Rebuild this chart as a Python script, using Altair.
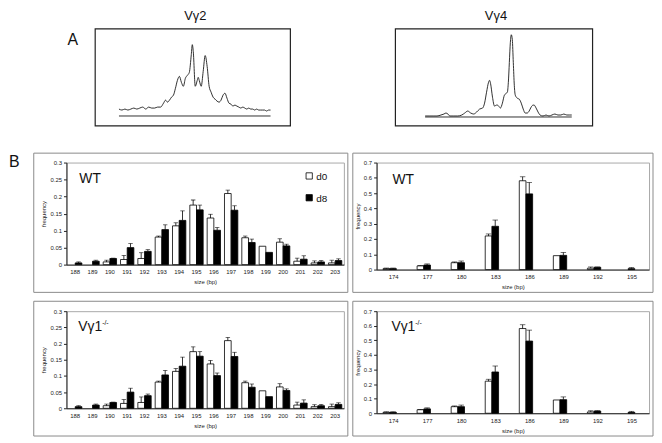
import altair as alt
import pandas as pd

FONT = "Liberation Sans"

# ---------------- Panel A: scan traces (position along scan, height above baseline) -------------
v2_pos = [24, 27, 30, 33, 36, 39, 42, 45, 48, 51, 54, 57, 60, 63, 66, 69, 71, 73, 75, 77, 79, 81, 83,
          85, 87, 89, 91, 93, 95, 97, 98, 99, 101, 103, 104, 105, 107, 109, 111, 113, 115, 117, 119,
          121, 123, 125, 127, 129, 131, 133, 135, 137, 139, 141, 143, 145, 147, 149, 151, 153, 155,
          157, 159, 161, 163, 165, 167, 169, 171, 173, 175, 177]
v2_h = [7, 6, 7, 6, 7, 8, 7, 8, 9, 7, 9, 8, 8, 9, 9, 13, 16, 14, 16, 19, 21, 28, 36,
        40, 34, 30, 38, 41, 44, 62, 72, 65, 30, 36, 39, 36, 30, 45, 61, 50, 30, 24, 19,
        17, 15, 14, 16, 21, 23, 18, 13, 12, 10, 11, 10, 9, 8, 9, 8, 7, 8,
        7, 7, 6, 7, 6, 6, 6, 6, 5, 6, 6]

v4_pos = [30, 34, 38, 42, 46, 49, 51, 53, 55, 59, 63, 67, 70, 73, 76, 79, 82, 85, 88, 90, 92, 94, 95,
          96, 98, 100, 102, 103, 105, 106, 108, 110, 112, 113, 114, 115, 116, 117, 118, 119, 120,
          121, 123, 125, 127, 129, 131, 133, 135, 137, 139, 140, 142, 144, 146, 149, 152, 155, 158,
          161, 164, 167, 170, 173, 176, 178]
v4_h = [1, 1, 1, 1, 2, 3, 4, 3, 1, 1, 1, 2, 4, 6, 4, 3, 5, 8, 9, 14, 25, 35, 37,
        34, 20, 11, 12, 12, 10, 9, 14, 22, 24, 25, 35, 55, 75, 83, 78, 55, 32,
        22, 19, 18, 14, 8, 4, 4, 6, 10, 12, 12, 9, 5, 2, 1, 2, 1, 2,
        3, 2, 2, 3, 2, 2, 2]

# ---------------- Panel B: frequency of CDR3 sizes --------------------------------------------
g2_sizes = [188, 189, 190, 191, 192, 193, 194, 195, 196, 197, 198, 199, 200, 201, 202, 203]
g2_d0 = [0.000, 0.000, 0.008, 0.015, 0.018, 0.081, 0.114, 0.175, 0.137, 0.209, 0.079, 0.054, 0.066, 0.010, 0.005, 0.005]
g2_d0_err = [0.0, 0.0, 0.005, 0.012, 0.017, 0.003, 0.009, 0.015, 0.011, 0.010, 0.005, 0.0, 0.010, 0.009, 0.006, 0.008]
g2_d8 = [0.005, 0.010, 0.018, 0.050, 0.039, 0.103, 0.130, 0.161, 0.101, 0.160, 0.065, 0.036, 0.055, 0.016, 0.008, 0.012]
g2_d8_err = [0.003, 0.003, 0.001, 0.012, 0.005, 0.014, 0.028, 0.014, 0.008, 0.013, 0.010, 0.0, 0.005, 0.010, 0.004, 0.005]

g4_sizes = [174, 177, 180, 183, 186, 189, 192, 195]
g4_d0 = [0.006, 0.024, 0.045, 0.220, 0.581, 0.091, 0.009, 0.000]
g4_d0_err = [0.004, 0.002, 0.005, 0.013, 0.026, 0.0, 0.008, 0.0]
g4_d8 = [0.006, 0.030, 0.045, 0.283, 0.495, 0.093, 0.015, 0.006]
g4_d8_err = [0.004, 0.007, 0.011, 0.041, 0.075, 0.019, 0.002, 0.007]

groups = ["d0", "d8"]

ONE = alt.Data(values=[{}])


def frame(x1, x2, y1, y2, color="#8a8a8a", width=1.0):
    return alt.Chart(ONE).mark_rect(fill="transparent", stroke=color, strokeWidth=width).encode(
        x=alt.value(x1), x2=alt.value(x2), y=alt.value(y1), y2=alt.value(y2))


def label(text, x, y, size, align="left", weight="normal"):
    return alt.Chart(ONE).mark_text(text=text, fontSize=size, align=align, baseline="alphabetic",
                                    font=FONT, color="#111", fontWeight=weight).encode(
        x=alt.value(x), y=alt.value(y))


def anchor():
    # invisible marker that fixes the left edge of every row
    return alt.Chart(ONE).mark_rect(opacity=0).encode(
        x=alt.value(-58), x2=alt.value(-57), y=alt.value(0), y2=alt.value(1))


def trace_panel(pos, h, w, hgt, xdom, ydom, box, title, title_x, extra=None):
    df = pd.DataFrame({"pos": pos, "h": h})
    xs = alt.Scale(domain=xdom, nice=False, zero=False)
    ys = alt.Scale(domain=ydom, nice=False, zero=False)
    line = alt.Chart(df).mark_line(color="#1a1a1a", strokeWidth=0.9, interpolate="monotone").encode(
        x=alt.X("pos:Q", scale=xs, axis=None), y=alt.Y("h:Q", scale=ys, axis=None))
    base_df = pd.DataFrame({"a": [min(pos)], "b": [max(pos)], "z": [0]})
    baseline = alt.Chart(base_df).mark_rule(color="#1a1a1a", strokeWidth=0.9).encode(
        x=alt.X("a:Q", scale=xs, axis=None), x2="b:Q", y=alt.Y("z:Q", scale=ys, axis=None))
    layers = [frame(box[0], box[1], 0, hgt, color="#222", width=1.2), baseline, line,
              label(title, title_x, -8.5, 13, align="center")]
    if extra:
        layers += extra
    return alt.layer(*layers).properties(width=w, height=hgt,
                                         view=alt.ViewBackground(stroke="transparent"))


def bar_panel(sizes, d0, d0e, d8, d8e, ymax, yvals, w, hgt, pin, pout, cap, extra):
    rows = []
    for s, a, ae, b, be in zip(sizes, d0, d0e, d8, d8e):
        rows.append({"size": s, "grp": "d0", "val": a, "err": ae, "up": a + ae})
        rows.append({"size": s, "grp": "d8", "val": b, "err": be, "up": b + be})
    df = pd.DataFrame(rows)
    xaxis = alt.Axis(title="size (bp)", labelAngle=0, ticks=False, domainColor="#222", labelFontSize=6,
                     titleFontSize=6, labelPadding=4, titlePadding=4, titleFontWeight="normal",
                     labelColor="#222", titleColor="#222", labelFont=FONT, titleFont=FONT)
    yaxis = alt.Axis(title="frequency", values=yvals, format="~g", grid=False, tickSize=3,
                     tickColor="#222", domainColor="#222", labelFontSize=6, titleFontSize=6,
                     labelPadding=2, titlePadding=3, titleFontWeight="normal", labelColor="#222",
                     titleColor="#222", labelFont=FONT, titleFont=FONT)
    xs = alt.Scale(paddingInner=pin, paddingOuter=pout)
    ys = alt.Scale(domain=[0, ymax], nice=False)
    X = alt.X("size:O", scale=xs, axis=xaxis)
    XO = alt.XOffset("grp:N", scale=alt.Scale(domain=groups))
    bars = alt.Chart(df).transform_filter("datum.val > 0").mark_bar(stroke="black", strokeWidth=0.8).encode(
        x=X, xOffset=XO, y=alt.Y("val:Q", scale=ys, axis=yaxis),
        fill=alt.Fill("grp:N", scale=alt.Scale(domain=groups, range=["white", "black"]), legend=None))
    errs = alt.Chart(df).transform_filter("datum.err > 0").mark_rule(color="black", strokeWidth=0.8).encode(
        x=X, xOffset=XO, y=alt.Y("val:Q", scale=ys, axis=yaxis), y2="up:Q")
    caps = alt.Chart(df).transform_filter("datum.err > 0").mark_tick(
        color="black", thickness=0.8, size=cap, orient="horizontal").encode(
        x=X, xOffset=XO, y=alt.Y("up:Q", scale=ys, axis=yaxis))
    return alt.layer(bars, errs, caps, *extra).properties(width=w, height=hgt)


def legend_items():
    return [
        alt.Chart(ONE).mark_square(size=40, fill="white", stroke="black", strokeWidth=0.8, opacity=1).encode(
            x=alt.value(245), y=alt.value(13.5)),
        alt.Chart(ONE).mark_square(size=40, fill="black", stroke="black", strokeWidth=0.8, opacity=1).encode(
            x=alt.value(245), y=alt.value(35.5)),
        label("d0", 252, 17.5, 10),
        label("d8", 252, 39.5, 10),
    ]


yv_g2 = [0, 0.05, 0.1, 0.15, 0.2, 0.25, 0.3]
yv_g4 = [0, 0.1, 0.2, 0.3, 0.4, 0.5, 0.6, 0.7]

topL = trace_panel(v2_pos, v2_h, 280, 98, [-29, 251], [-10, 88], (29, 226), "Vγ2", 130,
                   extra=[label("A", 1, 16, 16), anchor()])
topR = trace_panel(v4_pos, v4_h, 275, 98, [-19, 256], [-9, 89], (19, 218), "Vγ4", 120.5)

wtL = bar_panel(g2_sizes, g2_d0, g2_d0_err, g2_d8, g2_d8_err, 0.3, yv_g2, 280, 103, 0.23, 0.12, 4.5,
                [frame(-33, 284, -9.5, 131), label("WT", 13, 20.5, 14), label("B", -58, 4.5, 16),
                 anchor()] + legend_items())
wtR = bar_panel(g4_sizes, g4_d0, g4_d0_err, g4_d8, g4_d8_err, 0.7, yv_g4, 275, 108, 0.38, 0.19, 5.5,
                [frame(-24, 279, -9.5, 131), label("WT", 16, 22, 14)])
koL = bar_panel(g2_sizes, g2_d0, g2_d0_err, g2_d8, g2_d8_err, 0.3, yv_g2, 280, 98, 0.23, 0.12, 4.5,
                [frame(-33, 284, -10, 126), label("Vγ1", 12, 20, 14), label("-/-", 36, 14, 7),
                 anchor()])
koR = bar_panel(g4_sizes, g4_d0, g4_d0_err, g4_d8, g4_d8_err, 0.7, yv_g4, 275, 103, 0.38, 0.19, 5.5,
                [frame(-24, 279, -10, 126), label("Vγ1", 15, 20, 14), label("-/-", 39, 14, 7)])

row1 = alt.hconcat(topL, topR, spacing=31)
row2 = alt.hconcat(wtL, wtR, spacing=3)
row3 = alt.hconcat(koL, koR, spacing=3)
bottom = alt.vconcat(row2, row3, spacing=7)
chart = alt.vconcat(row1, bottom, spacing=24).properties(padding=0).configure(
    font=FONT).configure_view(stroke="#a8a8a8", strokeWidth=1)

chart.save("out.html", embed_options={"renderer": "svg", "actions": False})
